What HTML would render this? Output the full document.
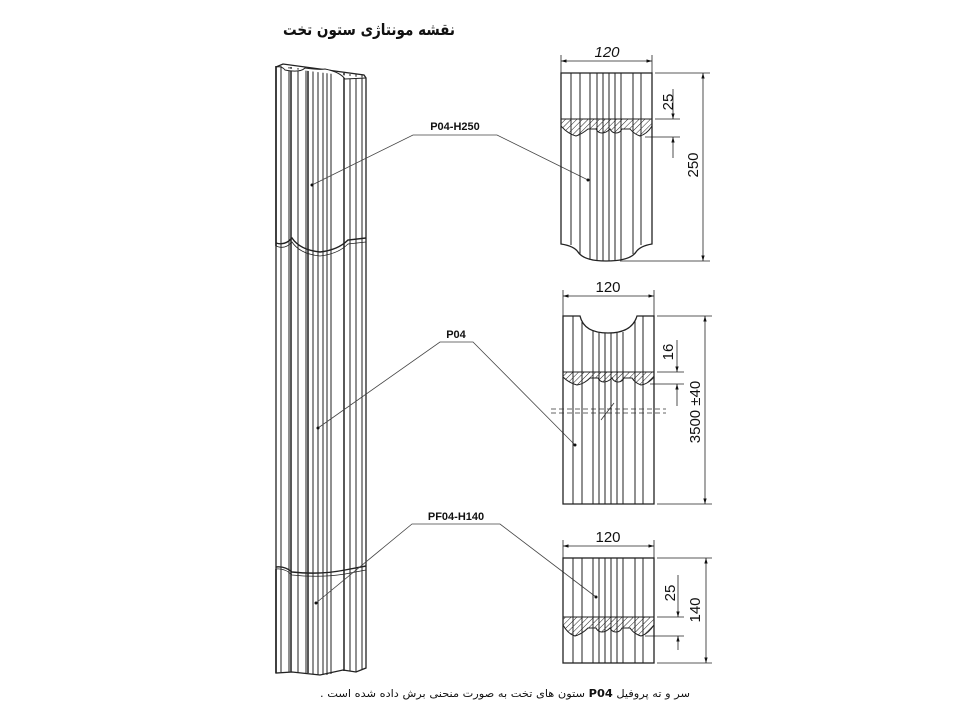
<!DOCTYPE html>
<html><head><meta charset="utf-8"><style>
html,body{margin:0;padding:0;background:#fff;}
svg{display:block}
</style></head><body>
<svg width="960" height="720" viewBox="0 0 960 720" xmlns="http://www.w3.org/2000/svg">
<defs>
<pattern id="h" width="4" height="4" patternUnits="userSpaceOnUse" patternTransform="rotate(45)">
<line x1="0" y1="0" x2="0" y2="4" stroke="#222" stroke-width="1"/>
</pattern>
<marker id="a" viewBox="0 0 10 10" refX="10" refY="5" markerWidth="7" markerHeight="7" orient="auto-start-reverse"><path d="M0,2 L10,5 L0,8z" fill="#111"/></marker>
</defs>

<text x="369" y="35" text-anchor="middle" direction="rtl" font-family="DejaVu Sans, sans-serif" font-weight="bold" font-size="16" fill="#111" textLength="172" lengthAdjust="spacingAndGlyphs">نقشه مونتاژی ستون تخت</text>

<g stroke="#222" fill="none" stroke-width="1">
<path d="M276,67 L283,64 L364,75 L366,78 L366,668 L356,672 L343,670 L320,675 L292,672 L276,673 Z" stroke-width="1.3"/>
<g stroke-width="1">
<line x1="281" y1="66" x2="281" y2="672"/>
<line x1="289" y1="67" x2="289" y2="672"/>
<line x1="291" y1="67" x2="291" y2="672" stroke-width="1.5"/>
<line x1="298" y1="68" x2="298" y2="673"/>
<line x1="306" y1="69" x2="306" y2="673"/>
<line x1="308" y1="69" x2="308" y2="673" stroke-width="1.5"/>
<line x1="313" y1="70" x2="313" y2="674"/>
<line x1="318" y1="70" x2="318" y2="675"/>
<line x1="323" y1="71" x2="323" y2="675"/>
<line x1="327" y1="71" x2="327" y2="675"/>
<line x1="331" y1="72" x2="331" y2="674"/>
<line x1="344" y1="73" x2="344" y2="671" stroke-width="1.5"/>
<line x1="350" y1="74" x2="350" y2="671"/>
<line x1="356" y1="74" x2="356" y2="672"/>
<line x1="362" y1="75" x2="362" y2="670"/>
</g>
<path d="M276,67 Q282,66 285,70 Q300,73 305,68 Q320,70 325,69 Q340,72 345,79 L366,78" fill="#fff"/>
<path d="M276,243 Q285,246 292,238 Q300,250 320,252 Q338,250 348,240 L366,238" stroke-width="1.4" fill="none"/>
<path d="M276,246 Q285,250 292,242 Q300,254 320,256 Q338,254 348,244 L366,242" stroke-width="0.8"/>
<path d="M276,567 Q285,566 292,572 Q320,575 345,570 L366,566" stroke-width="1.4"/>
<path d="M276,569 Q285,568 292,575 Q320,578 345,574 L366,570" stroke-width="0.8"/>
<path d="M276,569 L276,673 M276,66 L276,246" stroke-width="1.6"/>
</g>

<g stroke="#444" stroke-width="0.8" fill="none">
<polyline points="312,185 413,135 497,135 588,180"/>
<polyline points="318,428 440,342 473,342 575,445"/>
<polyline points="316,603 412,524 500,524 596,597"/>
</g>
<g fill="#111">
<circle cx="312" cy="185" r="1.5"/><circle cx="588" cy="180" r="1.5"/>
<circle cx="318" cy="428" r="1.5"/><circle cx="575" cy="445" r="1.5"/>
<circle cx="316" cy="603" r="1.5"/><circle cx="596" cy="597" r="1.5"/>
</g>
<g font-family="Liberation Sans, sans-serif" font-weight="bold" font-size="11" fill="#111" text-anchor="middle">
<text x="455" y="130">P04-H250</text>
<text x="456" y="338">P04</text>
<text x="456" y="520">PF04-H140</text>
</g>

<g stroke="#222" fill="none" stroke-width="1">
<path d="M561,73 L652,73 L652,244 Q640,246 636,252 Q630,261 606,261 Q584,261 578,252 Q574,246 561,244 Z" stroke-width="1.3"/>
<g>
<line x1="571" y1="73" x2="571" y2="245"/><line x1="580" y1="73" x2="580" y2="255"/>
<line x1="590" y1="73" x2="590" y2="260"/><line x1="597" y1="73" x2="597" y2="261"/>
<line x1="603" y1="73" x2="603" y2="261"/><line x1="609" y1="73" x2="609" y2="261"/>
<line x1="615" y1="73" x2="615" y2="261"/><line x1="621" y1="73" x2="621" y2="260"/>
<line x1="633" y1="73" x2="633" y2="254"/><line x1="641" y1="73" x2="641" y2="245"/>
</g>
<path d="M561,119 L652,119 L652,126 Q647,134 640,136 Q634,134 630,129 L622,129 Q620,133 616,133 Q612,133 610,129 Q606,133 602,133 Q598,133 596,129 L588,129 Q582,134 576,136 Q568,134 561,126 Z" fill="url(#h)"/>
</g>
<g stroke="#222" stroke-width="0.8" fill="none">
<line x1="561" y1="73" x2="561" y2="55"/><line x1="652" y1="73" x2="652" y2="55"/>
<line x1="561" y1="61" x2="652" y2="61" marker-start="url(#a)" marker-end="url(#a)"/>
<line x1="655" y1="73" x2="710" y2="73"/><line x1="620" y1="261" x2="710" y2="261"/>
<line x1="703" y1="73" x2="703" y2="261" marker-start="url(#a)" marker-end="url(#a)"/>
<line x1="655" y1="119" x2="680" y2="119"/><line x1="645" y1="137" x2="680" y2="137"/>
<line x1="673" y1="89" x2="673" y2="119" marker-end="url(#a)"/>
<line x1="673" y1="158" x2="673" y2="137" marker-end="url(#a)"/>
</g>

<g stroke="#222" fill="none" stroke-width="1">
<path d="M563,316 L580,316 Q584,333 608,333 Q632,333 637,316 L654,316 L654,504 L563,504 Z" stroke-width="1.3"/>
<g>
<line x1="573" y1="316" x2="573" y2="504"/><line x1="582" y1="322" x2="582" y2="504"/>
<line x1="593" y1="330" x2="593" y2="504"/><line x1="599" y1="332" x2="599" y2="504"/>
<line x1="605" y1="333" x2="605" y2="504"/><line x1="611" y1="333" x2="611" y2="504"/>
<line x1="617" y1="333" x2="617" y2="504"/><line x1="623" y1="332" x2="623" y2="504"/>
<line x1="635" y1="320" x2="635" y2="504"/><line x1="643" y1="316" x2="643" y2="504"/>
</g>
<path d="M563,372 L654,372 L654,377 Q648,384 641,385 Q635,383 632,378 L624,378 Q622,382 618,382 Q614,382 612,378 Q608,382 604,382 Q600,382 598,378 L590,378 Q584,384 577,385 Q569,383 563,377 Z" fill="url(#h)"/>
</g>
<g stroke="#333" stroke-width="0.8" stroke-dasharray="5,3">
<line x1="551" y1="409" x2="666" y2="409"/><line x1="551" y1="413" x2="666" y2="413"/>
</g>
<line x1="601" y1="420" x2="614" y2="403" stroke="#333" stroke-width="0.8"/>
<g stroke="#222" stroke-width="0.8" fill="none">
<line x1="563" y1="316" x2="563" y2="290"/><line x1="654" y1="316" x2="654" y2="290"/>
<line x1="563" y1="296" x2="654" y2="296" marker-start="url(#a)" marker-end="url(#a)"/>
<line x1="657" y1="316" x2="712" y2="316"/><line x1="657" y1="504" x2="712" y2="504"/>
<line x1="705" y1="316" x2="705" y2="504" marker-start="url(#a)" marker-end="url(#a)"/>
<line x1="657" y1="372" x2="684" y2="372"/><line x1="650" y1="384" x2="684" y2="384"/>
<line x1="677" y1="340" x2="677" y2="372" marker-end="url(#a)"/>
<line x1="677" y1="406" x2="677" y2="384" marker-end="url(#a)"/>
</g>

<g stroke="#222" fill="none" stroke-width="1">
<rect x="563" y="558" width="91" height="105" stroke-width="1.3"/>
<g>
<line x1="573" y1="558" x2="573" y2="663"/><line x1="582" y1="558" x2="582" y2="663"/>
<line x1="593" y1="558" x2="593" y2="663"/><line x1="599" y1="558" x2="599" y2="663"/>
<line x1="605" y1="558" x2="605" y2="663"/><line x1="611" y1="558" x2="611" y2="663"/>
<line x1="617" y1="558" x2="617" y2="663"/><line x1="623" y1="558" x2="623" y2="663"/>
<line x1="635" y1="558" x2="635" y2="663"/><line x1="643" y1="558" x2="643" y2="663"/>
</g>
<path d="M563,617 L654,617 L654,625 Q648,634 641,636 Q634,634 630,628 L622,628 Q620,632 616,632 Q612,632 610,628 Q606,632 602,632 Q598,632 596,628 L588,628 Q582,634 575,636 Q568,634 563,625 Z" fill="url(#h)"/>
</g>
<g stroke="#222" stroke-width="0.8" fill="none">
<line x1="563" y1="558" x2="563" y2="540"/><line x1="654" y1="558" x2="654" y2="540"/>
<line x1="563" y1="546" x2="654" y2="546" marker-start="url(#a)" marker-end="url(#a)"/>
<line x1="657" y1="558" x2="712" y2="558"/><line x1="657" y1="663" x2="712" y2="663"/>
<line x1="706" y1="558" x2="706" y2="663" marker-start="url(#a)" marker-end="url(#a)"/>
<line x1="657" y1="617" x2="684" y2="617"/><line x1="645" y1="636" x2="684" y2="636"/>
<line x1="678" y1="575" x2="678" y2="617" marker-end="url(#a)"/>
<line x1="678" y1="650" x2="678" y2="636" marker-end="url(#a)"/>
</g>

<g font-family="Liberation Sans, sans-serif" font-size="15" fill="#111">
<text x="607" y="57" text-anchor="middle" font-style="italic">120</text>
<text x="608" y="292" text-anchor="middle">120</text>
<text x="608" y="542" text-anchor="middle">120</text>
<text transform="translate(673,102) rotate(-90)" text-anchor="middle">25</text>
<text transform="translate(698,165) rotate(-90)" text-anchor="middle">250</text>
<text transform="translate(673,352) rotate(-90)" text-anchor="middle">16</text>
<text transform="translate(700,412) rotate(-90)" text-anchor="middle">3500 ±40</text>
<text transform="translate(675,593) rotate(-90)" text-anchor="middle">25</text>
<text transform="translate(700,610) rotate(-90)" text-anchor="middle">140</text>
</g>

<text x="505" y="697" text-anchor="middle" direction="rtl" font-family="DejaVu Sans, sans-serif" font-size="10.5" fill="#111" textLength="370" lengthAdjust="spacingAndGlyphs">سر و ته پروفیل <tspan font-weight="bold">P04</tspan> ستون های تخت به صورت منحنی برش داده شده است .</text>
</svg>
</body></html>
